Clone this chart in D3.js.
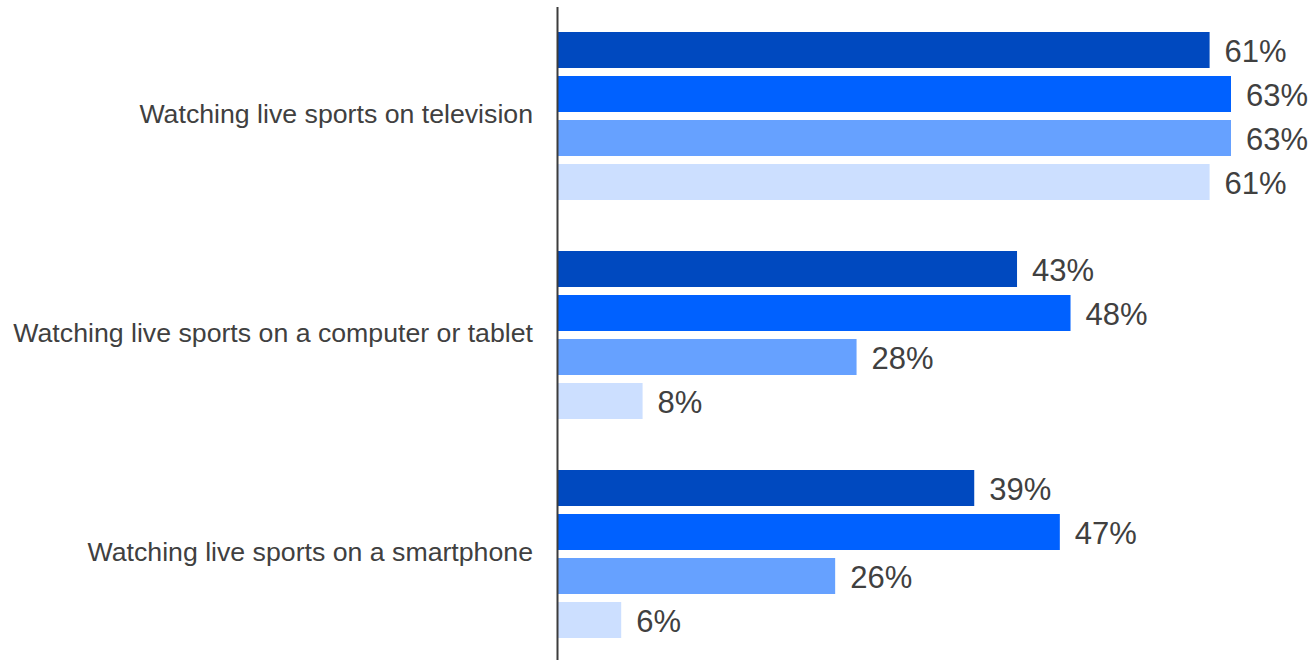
<!DOCTYPE html>
<html>
<head>
<meta charset="utf-8">
<script src="https://cdn.jsdelivr.net/npm/d3@7"></script>
<style>
  html, body { margin: 0; padding: 0; background: #ffffff; }
  svg { display: block; }
</style>
</head>
<body>
<svg id="chart" width="1314" height="660"></svg>
<script>
// Share of respondents by activity, four series per activity
const categories = [
  "Watching live sports on television",
  "Watching live sports on a computer or tablet",
  "Watching live sports on a smartphone"
];
const seriesNames = ["s1", "s2", "s3", "s4"];
const series1 = [61, 43, 39];
const series2 = [63, 48, 47];
const series3 = [63, 28, 26];
const series4 = [61, 8, 6];
const seriesColors = ["#0049BF", "#0061FF", "#66A1FF", "#CCDFFF"];

const allSeries = [series1, series2, series3, series4];
const rows = [];
categories.forEach((c, i) => {
  seriesNames.forEach((s, j) => rows.push({ cat: c, key: s, value: allSeries[j][i] }));
});

const svg = d3.select("#chart");
const textColor = "#404040";
const axisX = 557;

const x = d3.scaleLinear().domain([0, 63]).range([axisX, 1231]);

const y0 = d3.scaleBand()
  .domain(categories)
  .range([6.5, 663.5])
  .paddingInner(51 / 219)
  .paddingOuter(25.5 / 219);

const y1 = d3.scaleBand()
  .domain(seriesNames)
  .range([0, y0.bandwidth()])
  .paddingInner(8 / 44)
  .paddingOuter(0);

const color = d3.scaleOrdinal().domain(seriesNames).range(seriesColors);

// bars
svg.append("g")
  .selectAll("rect")
  .data(rows)
  .join("rect")
  .attr("x", x(0) + 1)
  .attr("y", d => y0(d.cat) + y1(d.key))
  .attr("width", d => x(d.value) - x(0) - 1)
  .attr("height", y1.bandwidth())
  .attr("fill", d => color(d.key));

// value labels
svg.append("g")
  .selectAll("text")
  .data(rows)
  .join("text")
  .attr("x", d => x(d.value) + 15)
  .attr("y", d => y0(d.cat) + y1(d.key) + y1.bandwidth() / 2)
  .attr("dy", "0.4em")
  .attr("font-family", "Liberation Sans, Arial, sans-serif")
  .attr("font-size", 31)
  .attr("fill", textColor)
  .text(d => d.value + "%");

// category axis
const axis = svg.append("g")
  .attr("transform", `translate(${axisX},0)`)
  .call(d3.axisLeft(y0).tickSize(0).tickSizeOuter(0).tickPadding(24));

axis.select(".domain")
  .attr("stroke", "#3c3c3c")
  .attr("stroke-width", 2);

axis.selectAll(".tick text")
  .attr("dy", "0.28em")
  .attr("font-family", "Liberation Sans, Arial, sans-serif")
  .attr("font-size", 26.7)
  .attr("fill", textColor);
</script>
</body>
</html>
